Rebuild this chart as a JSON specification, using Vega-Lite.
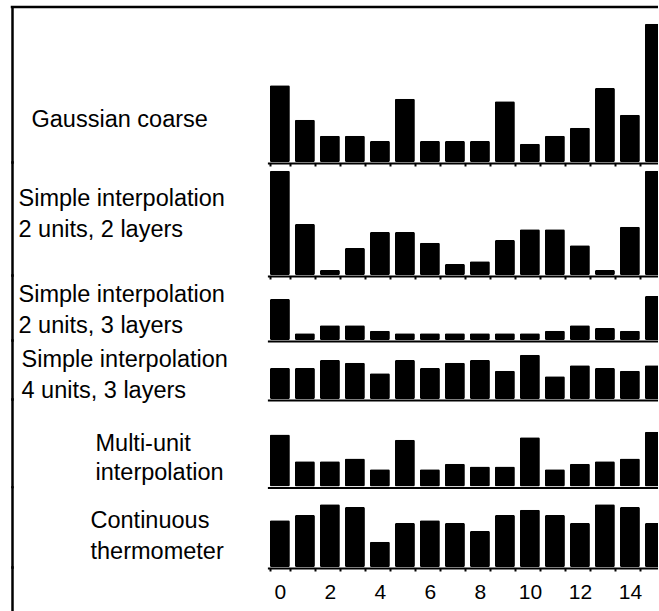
{
  "$schema": "https://vega.github.io/schema/vega-lite/v6.json",
  "background": "white",
  "padding": {"left": 10, "top": 5, "right": -8, "bottom": 0},
  "spacing": 0,
  "bounds": "flush",
  "config": {
    "view": {"stroke": null},
    "font": "Liberation Sans",
    "axis": {"grid": false, "domainColor": "black", "tickColor": "black", "labelColor": "black", "titleColor": "black"},
    "axisX": {"domainWidth": 2, "tickSize": 3, "tickWidth": 2, "tickBand": "extent", "labels": false, "title": null, "offset": 1},
    "axisY": {"domain": true, "domainWidth": 2.5, "domainCap": "square", "ticks": false, "labels": false, "titleAngle": 0, "titleAlign": "left", "titleBaseline": "middle", "titleFontSize": 23.5, "titleFontWeight": "normal", "titleFont": "Liberation Sans", "titleLineHeight": 31}
  },
  "datasets": {
    "bars": [
      {"panel": "gauss", "bin": 0, "v": 76.7}, {"panel": "gauss", "bin": 1, "v": 42.3}, {"panel": "gauss", "bin": 2, "v": 26.3}, {"panel": "gauss", "bin": 3, "v": 26.3},
      {"panel": "gauss", "bin": 4, "v": 21}, {"panel": "gauss", "bin": 5, "v": 63.3}, {"panel": "gauss", "bin": 6, "v": 21}, {"panel": "gauss", "bin": 7, "v": 21},
      {"panel": "gauss", "bin": 8, "v": 21}, {"panel": "gauss", "bin": 9, "v": 60.7}, {"panel": "gauss", "bin": 10, "v": 18.3}, {"panel": "gauss", "bin": 11, "v": 26.3},
      {"panel": "gauss", "bin": 12, "v": 34.3}, {"panel": "gauss", "bin": 13, "v": 74}, {"panel": "gauss", "bin": 14, "v": 47.3}, {"panel": "gauss", "bin": 15, "v": 138.3},

      {"panel": "si22", "bin": 0, "v": 104.3}, {"panel": "si22", "bin": 1, "v": 51}, {"panel": "si22", "bin": 2, "v": 5}, {"panel": "si22", "bin": 3, "v": 27},
      {"panel": "si22", "bin": 4, "v": 43}, {"panel": "si22", "bin": 5, "v": 43}, {"panel": "si22", "bin": 6, "v": 32.3}, {"panel": "si22", "bin": 7, "v": 11},
      {"panel": "si22", "bin": 8, "v": 13.7}, {"panel": "si22", "bin": 9, "v": 35}, {"panel": "si22", "bin": 10, "v": 45.7}, {"panel": "si22", "bin": 11, "v": 45.7},
      {"panel": "si22", "bin": 12, "v": 29.7}, {"panel": "si22", "bin": 13, "v": 5}, {"panel": "si22", "bin": 14, "v": 48.3}, {"panel": "si22", "bin": 15, "v": 104.3},

      {"panel": "si23", "bin": 0, "v": 41}, {"panel": "si23", "bin": 1, "v": 6.7}, {"panel": "si23", "bin": 2, "v": 14.7}, {"panel": "si23", "bin": 3, "v": 14.7},
      {"panel": "si23", "bin": 4, "v": 9.3}, {"panel": "si23", "bin": 5, "v": 6.7}, {"panel": "si23", "bin": 6, "v": 6.7}, {"panel": "si23", "bin": 7, "v": 6.7},
      {"panel": "si23", "bin": 8, "v": 6.7}, {"panel": "si23", "bin": 9, "v": 6.7}, {"panel": "si23", "bin": 10, "v": 6.7}, {"panel": "si23", "bin": 11, "v": 9.3},
      {"panel": "si23", "bin": 12, "v": 14.7}, {"panel": "si23", "bin": 13, "v": 12}, {"panel": "si23", "bin": 14, "v": 9.3}, {"panel": "si23", "bin": 15, "v": 44},

      {"panel": "si43", "bin": 0, "v": 31}, {"panel": "si43", "bin": 1, "v": 31}, {"panel": "si43", "bin": 2, "v": 39}, {"panel": "si43", "bin": 3, "v": 36.3},
      {"panel": "si43", "bin": 4, "v": 25.7}, {"panel": "si43", "bin": 5, "v": 39}, {"panel": "si43", "bin": 6, "v": 31}, {"panel": "si43", "bin": 7, "v": 36.3},
      {"panel": "si43", "bin": 8, "v": 39}, {"panel": "si43", "bin": 9, "v": 28.3}, {"panel": "si43", "bin": 10, "v": 44.3}, {"panel": "si43", "bin": 11, "v": 22.7},
      {"panel": "si43", "bin": 12, "v": 33.7}, {"panel": "si43", "bin": 13, "v": 31}, {"panel": "si43", "bin": 14, "v": 28.3}, {"panel": "si43", "bin": 15, "v": 33.7},

      {"panel": "multi", "bin": 0, "v": 52}, {"panel": "multi", "bin": 1, "v": 25.3}, {"panel": "multi", "bin": 2, "v": 25.3}, {"panel": "multi", "bin": 3, "v": 28},
      {"panel": "multi", "bin": 4, "v": 17.3}, {"panel": "multi", "bin": 5, "v": 46.7}, {"panel": "multi", "bin": 6, "v": 17.3}, {"panel": "multi", "bin": 7, "v": 22.7},
      {"panel": "multi", "bin": 8, "v": 20}, {"panel": "multi", "bin": 9, "v": 20}, {"panel": "multi", "bin": 10, "v": 49.3}, {"panel": "multi", "bin": 11, "v": 17.3},
      {"panel": "multi", "bin": 12, "v": 22.7}, {"panel": "multi", "bin": 13, "v": 25.3}, {"panel": "multi", "bin": 14, "v": 28}, {"panel": "multi", "bin": 15, "v": 54.7},

      {"panel": "thermo", "bin": 0, "v": 46.7}, {"panel": "thermo", "bin": 1, "v": 52}, {"panel": "thermo", "bin": 2, "v": 62.7}, {"panel": "thermo", "bin": 3, "v": 60},
      {"panel": "thermo", "bin": 4, "v": 25.3}, {"panel": "thermo", "bin": 5, "v": 44}, {"panel": "thermo", "bin": 6, "v": 46.7}, {"panel": "thermo", "bin": 7, "v": 44},
      {"panel": "thermo", "bin": 8, "v": 36}, {"panel": "thermo", "bin": 9, "v": 52}, {"panel": "thermo", "bin": 10, "v": 57.3}, {"panel": "thermo", "bin": 11, "v": 52},
      {"panel": "thermo", "bin": 12, "v": 44}, {"panel": "thermo", "bin": 13, "v": 62.7}, {"panel": "thermo", "bin": 14, "v": 60}, {"panel": "thermo", "bin": 15, "v": 44}
    ]
  },
  "vconcat": [
    {
      "width": 648, "height": 0.01,
      "data": {"values": []},
      "mark": "bar",
      "encoding": {},
      "view": {"stroke": "black", "strokeWidth": 2.5}
    },
    {
      "width": 648, "height": 154,
      "data": {"name": "bars"},
      "transform": [{"filter": "datum.panel == 'gauss'"}],
      "mark": {"type": "bar", "color": "black", "cornerRadius": 1.5},
      "encoding": {
        "x": {"field": "bin", "type": "ordinal", "scale": {"domain": [0,1,2,3,4,5,6,7,8,9,10,11,12,13,14,15], "range": [255.4, 655.4], "paddingInner": 0.2, "paddingOuter": 0.1}},
        "y": {"field": "v", "type": "quantitative", "scale": {"domain": [0, 154], "nice": false}, "axis": {"title": "Gaussian coarse", "titleX": 19, "titleY": 111}}
      }
    },
    {
      "width": 648, "height": 113,
      "data": {"name": "bars"},
      "transform": [{"filter": "datum.panel == 'si22'"}],
      "mark": {"type": "bar", "color": "black", "cornerRadius": 1.5},
      "encoding": {
        "x": {"field": "bin", "type": "ordinal", "scale": {"domain": [0,1,2,3,4,5,6,7,8,9,10,11,12,13,14,15], "range": [255.4, 655.4], "paddingInner": 0.2, "paddingOuter": 0.1}},
        "y": {"field": "v", "type": "quantitative", "scale": {"domain": [0, 113], "nice": false}, "axis": {"title": ["Simple interpolation", "2 units, 2 layers"], "titleX": 6, "titleY": 36}}
      }
    },
    {
      "width": 648, "height": 65,
      "data": {"name": "bars"},
      "transform": [{"filter": "datum.panel == 'si23'"}],
      "mark": {"type": "bar", "color": "black", "cornerRadius": 1.5},
      "encoding": {
        "x": {"field": "bin", "type": "ordinal", "scale": {"domain": [0,1,2,3,4,5,6,7,8,9,10,11,12,13,14,15], "range": [255.4, 655.4], "paddingInner": 0.2, "paddingOuter": 0.1}, "axis": {"ticks": false}},
        "y": {"field": "v", "type": "quantitative", "scale": {"domain": [0, 65], "nice": false}, "axis": {"title": ["Simple interpolation", "2 units, 3 layers"], "titleX": 6, "titleY": 19}}
      }
    },
    {
      "width": 648, "height": 59,
      "data": {"name": "bars"},
      "transform": [{"filter": "datum.panel == 'si43'"}],
      "mark": {"type": "bar", "color": "black", "cornerRadius": 1.5},
      "encoding": {
        "x": {"field": "bin", "type": "ordinal", "scale": {"domain": [0,1,2,3,4,5,6,7,8,9,10,11,12,13,14,15], "range": [255.4, 655.4], "paddingInner": 0.2, "paddingOuter": 0.1}, "axis": {"ticks": false}},
        "y": {"field": "v", "type": "quantitative", "scale": {"domain": [0, 59], "nice": false}, "axis": {"title": ["Simple interpolation", "4 units, 3 layers"], "titleX": 9, "titleY": 19}}
      }
    },
    {
      "width": 648, "height": 87.5,
      "data": {"name": "bars"},
      "transform": [{"filter": "datum.panel == 'multi'"}],
      "mark": {"type": "bar", "color": "black", "cornerRadius": 1.5},
      "encoding": {
        "x": {"field": "bin", "type": "ordinal", "scale": {"domain": [0,1,2,3,4,5,6,7,8,9,10,11,12,13,14,15], "range": [255.4, 655.4], "paddingInner": 0.2, "paddingOuter": 0.1}, "axis": {"ticks": false}},
        "y": {"field": "v", "type": "quantitative", "scale": {"domain": [0, 87.5], "nice": false}, "axis": {"title": ["Multi-unit", "interpolation"], "titleX": 83, "titleY": 44, "titleLineHeight": 29}}
      }
    },
    {
      "width": 648, "height": 80,
      "data": {"name": "bars"},
      "transform": [{"filter": "datum.panel == 'thermo'"}],
      "mark": {"type": "bar", "color": "black", "cornerRadius": 1.5},
      "encoding": {
        "x": {"field": "bin", "type": "ordinal", "scale": {"domain": [0,1,2,3,4,5,6,7,8,9,10,11,12,13,14,15], "range": [255.4, 655.4], "paddingInner": 0.2, "paddingOuter": 0.1}, "axis": {"labels": true, "labelAngle": 0, "labelFontSize": 21, "labelPadding": 10, "labelExpr": "datum.value % 2 == 0 && datum.value < 15 ? datum.label : ''"}},
        "y": {"field": "v", "type": "quantitative", "scale": {"domain": [0, 80], "nice": false}, "axis": {"title": ["Continuous", "thermometer"], "titleX": 78, "titleY": 33}}
      }
    },
    {
      "width": 648, "height": 46,
      "data": {"values": []},
      "mark": "bar",
      "encoding": {
        "y": {"field": "v", "type": "quantitative", "scale": {"domain": [0, 1], "nice": false}, "axis": {"title": null}}
      }
    }
  ]
}
